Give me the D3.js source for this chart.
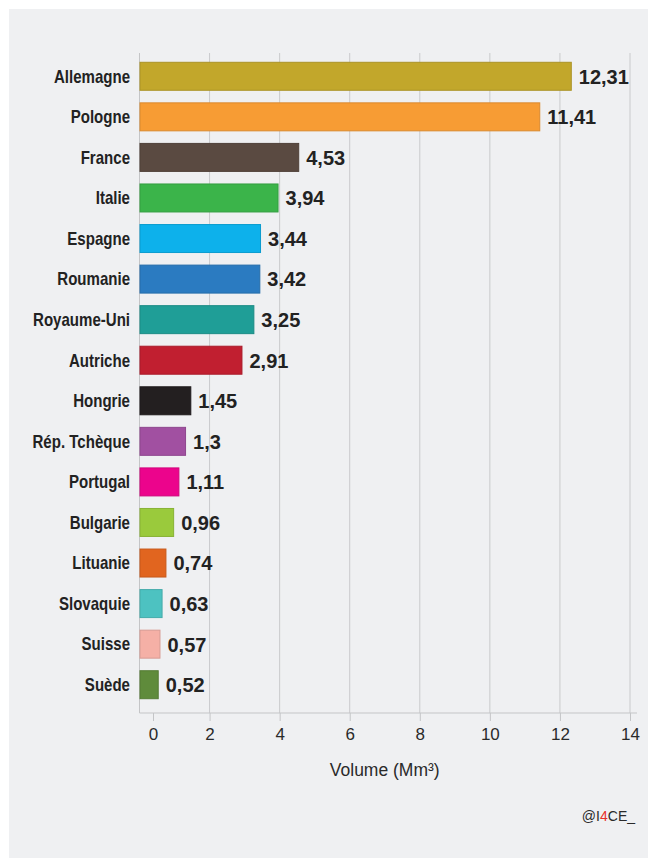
<!DOCTYPE html>
<html>
<head>
<meta charset="utf-8">
<script src="https://cdn.jsdelivr.net/npm/d3@7"></script>
<style>
  body { margin: 0; background: #fff; }
  svg { display: block; }
</style>
</head>
<body>
<div id="chart_container"></div>
<script>
// data
var countries = ['Allemagne', 'Pologne', 'France', 'Italie', 'Espagne', 'Roumanie', 'Royaume-Uni', 'Autriche', 'Hongrie', 'Rép. Tchèque', 'Portugal', 'Bulgarie', 'Lituanie', 'Slovaquie', 'Suisse', 'Suède']
var volumes = [12.31, 11.41, 4.53, 3.94, 3.44, 3.42, 3.25, 2.91, 1.45, 1.3, 1.11, 0.96, 0.74, 0.63, 0.57, 0.52]
var bar_colors = ['#C2A72B', '#F79C34', '#5A4A41', '#3BB44A', '#0DB1EB', '#2B7BC1', '#1F9E97', '#C11F30', '#231F20', '#A150A1', '#EC048C', '#9ACA3C', '#E1651F', '#4DC2C1', '#F5B0A6', '#5F8B3B']
var x_ticks = [0, 2, 4, 6, 8, 10, 12, 14]
var x_title = 'Volume (Mm³)'

var width = 648, height = 858

var svg = d3.select("#chart_container")
            .append("svg")
            .attr("width", width)
            .attr("height", height)

// grey panel
svg.append("rect")
    .attr("x", 9).attr("y", 9)
    .attr("width", width - 9).attr("height", height - 9)
    .attr("fill", "#EFF0F2")

var plot_top = 53, plot_bottom = 713

var x = d3.scaleLinear()
            .domain([0, 14])
            .range([139.5, 630])

var y = d3.scaleBand()
            .domain(countries)
            .range([56, 705])
            .paddingInner(0.31)
            .paddingOuter(0.155)

// vertical grid lines
svg.append("g")
    .selectAll("line")
    .data(x_ticks.slice(1))
    .enter()
    .append("line")
        .attr("x1", function(d){ return x(d) })
        .attr("x2", function(d){ return x(d) })
        .attr("y1", plot_top)
        .attr("y2", plot_bottom)
        .attr("stroke", "#C9CACC")
        .attr("stroke-width", 1)

// bottom axis, the 0 tick sits a bit right of the axis in the original
var x_axis = svg.append("g")
    .attr("transform", "translate(0," + plot_bottom + ")")
    .call(d3.axisBottom(x).tickValues(x_ticks).tickSize(8).tickPadding(7).tickFormat(d3.format("d")))

x_axis.select(".domain")
    .attr("d", "M" + x(0) + ",0H" + (x(14) + 7))
    .attr("stroke", "#C4C5C7")
x_axis.selectAll(".tick line").attr("stroke", "#C4C5C7")
x_axis.selectAll(".tick")
    .filter(function(d){ return d === 0 })
    .attr("transform", "translate(" + x(0.4) + ",0)")
x_axis.selectAll(".tick text")
    .attr("fill", "#2a2a2a")
    .style("font-family", "'Liberation Sans', Arial, Helvetica, sans-serif")
    .style("font-size", "17px")

// left axis line
svg.append("line")
    .attr("x1", x(0)).attr("x2", x(0))
    .attr("y1", plot_top).attr("y2", plot_bottom)
    .attr("stroke", "#C4C5C7")

// bars
svg.append("g")
    .selectAll("rect")
    .data(countries)
    .enter()
    .append("rect")
        .attr("x", x(0) + 0.5)
        .attr("y", function(d){ return y(d) })
        .attr("width", function(d, i){ return x(volumes[i]) - x(0) })
        .attr("height", y.bandwidth())
        .attr("fill", function(d, i){ return bar_colors[i] })
        .attr("stroke", function(d, i){ return d3.color(bar_colors[i]).darker(0.35) })
        .attr("stroke-width", 1)

// country labels (condensed look: squeeze a bold sans horizontally)
svg.append("g")
    .selectAll("text")
    .data(countries)
    .enter()
    .append("text")
        .attr("transform", function(d){ return "translate(130," + (y(d) + y.bandwidth() / 2) + ") scale(0.86,1)" })
        .attr("dy", "0.36em")
        .attr("text-anchor", "end")
        .attr("fill", "#222")
        .style("font-family", "'Liberation Sans', Arial, Helvetica, sans-serif")
        .style("font-weight", "bold")
        .style("font-size", "17.5px")
        .text(function(d){ return d })

// value labels
svg.append("g")
    .selectAll("text")
    .data(countries)
    .enter()
    .append("text")
        .attr("x", function(d, i){ return x(volumes[i]) + 8 })
        .attr("y", function(d){ return y(d) + y.bandwidth() / 2 })
        .attr("dy", "0.37em")
        .attr("fill", "#222")
        .style("font-family", "'Liberation Sans', Arial, Helvetica, sans-serif")
        .style("font-weight", "bold")
        .style("font-size", "20px")
        .text(function(d, i){ return String(volumes[i]).replace(".", ",") })

// axis title
svg.append("text")
    .attr("x", (x(0) + x(14)) / 2)
    .attr("y", 776)
    .attr("text-anchor", "middle")
    .attr("fill", "#2a2a2a")
    .style("font-family", "'Liberation Sans', Arial, Helvetica, sans-serif")
    .style("font-size", "17.5px")
    .text(x_title)

// credit
var credit = svg.append("text")
    .attr("x", 635)
    .attr("y", 821)
    .attr("text-anchor", "end")
    .attr("fill", "#2a2a2a")
    .style("font-family", "'Liberation Sans', Arial, Helvetica, sans-serif")
    .style("font-size", "14px")
credit.append("tspan").text("@I")
credit.append("tspan").attr("fill", "#E8302A").text("4")
credit.append("tspan").text("CE_")
</script>
</body>
</html>
